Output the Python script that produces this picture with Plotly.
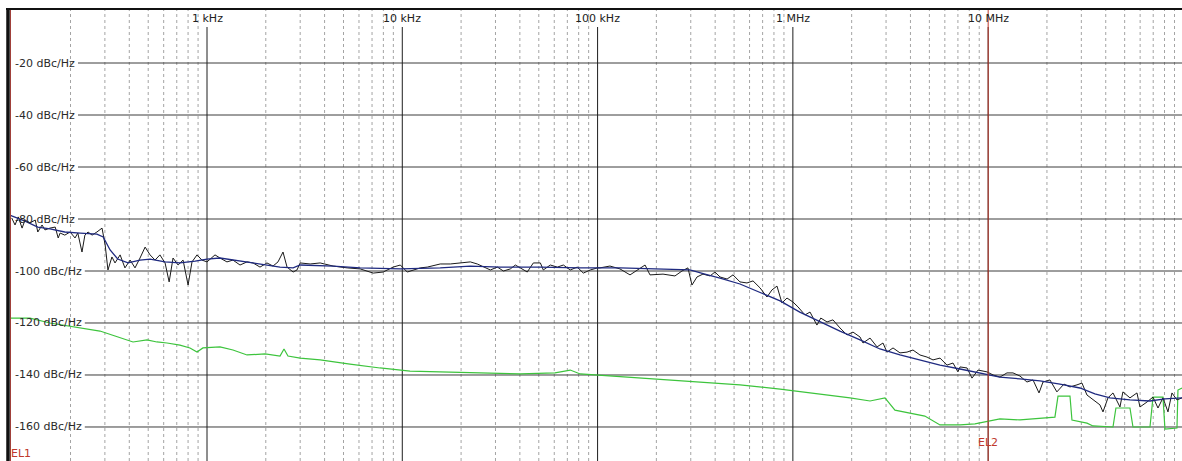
import math
import plotly.graph_objects as go

# ---------------- data ----------------
freq_black = [100, 104, 108, 113, 117, 124, 132, 136, 143, 148, 157, 167, 173, 177, 187, 199, 211, 218, 229, 237,
              246, 258, 273, 290, 301, 311, 326, 338, 359, 380, 404, 428, 454, 482, 511, 542, 574, 610, 640, 670,
              711, 754, 800, 838, 889, 942, 1000, 1099, 1165, 1265, 1358, 1476, 1603, 1721, 1868, 2028, 2178, 2310,
              2450, 2570, 2760, 2890, 3000, 3375, 3795, 4425, 5220, 6085, 7095, 7980, 8975, 9770, 10600, 12360,
              13430, 15640, 17610, 20530, 22300, 24200, 26000, 28240, 30690, 32950, 35740, 37930, 40200, 43650,
              46880, 50930, 52720, 57280, 62210, 66800, 72440, 78700, 84500, 91800, 99800, 102800, 115700, 130200,
              146600, 175000, 185500, 216300, 249000, 270500, 290200, 304300, 322800, 346400, 376500, 399000,
              423600, 460300, 493500, 536000, 582000, 625000, 679000, 737000, 781000, 829000, 879000, 933000,
              1.0e6, 1.062e6, 1.153e6, 1.224e6, 1.328e6, 1.39e6, 1.496e6, 1.604e6, 1.742e6, 1.893e6, 2.032e6,
              2.208e6, 2.286e6, 2.484e6, 2.698e6, 2.893e6, 3.034e6, 3.257e6, 3.535e6, 3.840e6, 4.121e6, 4.475e6,
              4.860e6, 5.219e6, 5.667e6, 6.155e6, 6.607e6, 7.0e6, 7.178e6, 7.796e6, 8.263e6, 8.873e6, 9.86e6,
              1.060e7, 1.149e7, 1.248e7, 1.340e7, 1.455e7, 1.580e7, 1.697e7, 1.821e7, 1.909e7, 2.072e7, 2.249e7,
              2.444e7, 2.624e7, 2.849e7, 3.022e7, 3.206e7, 3.441e7, 3.736e7, 3.872e7, 4.107e7, 4.357e7, 4.730e7,
              4.898e7, 5.322e7, 5.781e7, 5.988e7, 6.505e7, 6.982e7, 7.406e7, 7.855e7, 8.331e7, 8.733e7, 9.265e7,
              9.83e7]
db_black = [-79.6, -82.3, -79.2, -83.5, -80.4, -81.5, -80.4, -85.0, -82.3, -84.2, -83.5, -83.1, -87.3, -85.4,
            -86.2, -85.0, -87.3, -85.4, -92.7, -86.2, -85.0, -86.2, -85.0, -83.5, -90.0, -99.6, -94.6, -96.9,
            -93.8, -98.8, -95.8, -98.8, -95.0, -90.8, -93.8, -95.8, -93.8, -96.9, -104.2, -95.0, -97.7, -95.8,
            -105.4, -96.5, -93.8, -95.8, -96.5, -93.8, -95.0, -96.5, -95.8, -97.7, -96.5, -96.9, -98.5, -96.9,
            -98.1, -96.5, -92.7, -98.5, -100.4, -99.6, -96.9, -97.3, -96.9, -98.1, -98.8, -99.2, -100.8, -100.4,
            -98.5, -97.7, -100.4, -98.8, -98.5, -97.3, -97.3, -96.9, -96.5, -97.3, -98.5, -99.6, -98.5, -100.0,
            -99.2, -97.7, -98.8, -100.4, -96.9, -96.9, -99.6, -97.7, -98.5, -97.7, -99.6, -98.5, -100.8, -99.6,
            -98.8, -98.8, -98.1, -99.2, -101.5, -97.7, -101.5, -101.2, -101.9, -100.0, -98.8, -105.4, -102.3,
            -101.2, -101.9, -100.4, -102.3, -103.1, -101.5, -104.2, -104.6, -103.8, -106.5, -110.0, -107.3,
            -105.8, -112.3, -110.4, -111.9, -113.8, -116.9, -115.8, -120.8, -118.1, -119.6, -118.8, -121.9,
            -124.6, -123.5, -125.4, -127.7, -125.8, -129.2, -127.7, -131.2, -129.6, -131.5, -131.2, -130.4,
            -132.3, -133.1, -134.2, -133.5, -136.2, -135.4, -138.8, -136.9, -137.3, -141.2, -138.1, -138.8,
            -140.0, -140.8, -139.2, -139.2, -140.4, -142.7, -141.9, -146.9, -142.7, -141.9, -146.5, -143.5,
            -144.6, -143.8, -143.1, -147.7, -149.6, -151.5, -154.2, -148.8, -146.9, -152.3, -146.5, -148.8,
            -146.9, -152.3, -150.4, -148.5, -152.7, -148.8, -154.2, -146.9, -149.6, -148.8]

freq_blue = [98, 100, 117, 136, 157, 187, 224, 273, 294, 319, 349, 394, 454, 511, 610, 727, 870, 1000, 1165,
             1476, 1868, 2365, 2760, 3000, 4425, 6085, 9770, 15640, 22300, 31650, 50930, 81470, 130200, 208700,
             297200, 354600, 423600, 536000, 679000, 860200, 1.085e6, 1.374e6, 1.742e6, 2.208e6, 2.792e6,
             3.535e6, 4.475e6, 5.667e6, 7.178e6, 9.08e6, 1.149e7, 1.455e7, 1.842e7, 2.331e7, 2.95e7, 3.52e7,
             4.205e7, 5.322e7, 6.739e7, 8.040e7, 9.83e7]
db_blue = [-78.5, -78.8, -80.8, -83.1, -83.8, -85.0, -85.4, -85.8, -86.9, -91.9, -95.4, -96.9, -95.8, -95.4,
           -96.5, -96.9, -96.2, -95.4, -95.0, -96.2, -97.3, -98.5, -98.8, -97.7, -98.1, -98.8, -99.2, -98.8,
           -98.1, -98.5, -98.5, -98.8, -98.8, -99.2, -99.6, -101.2, -102.7, -105.0, -108.1, -111.5, -115.8,
           -119.6, -123.1, -126.5, -130.0, -132.3, -134.2, -136.2, -137.7, -139.2, -140.8, -141.5, -142.3,
           -143.5, -145.0, -147.3, -148.8, -149.6, -150.0, -149.2, -148.8]

freq_green = [98, 124, 157, 232, 283, 338, 389, 418, 493, 554, 624, 727, 818, 889, 953, 1165, 1358, 1603, 1985,
              2365, 2479, 2598, 3000, 3795, 5397, 7688, 10950, 15640, 25000, 40200, 60520, 72440, 81500, 115700,
              185500, 334500, 536000, 860200, 1.374e6, 1.962e6, 2.484e6, 2.962e6, 3.332e6, 3.98e6, 4.74e6,
              5.667e6, 7.178e6, 8.556e6, 1.0e7, 1.149e7, 1.455e7, 1.697e7, 2.072e7, 2.197e7, 2.278e7, 2.624e7,
              2.686e7, 3.206e7, 3.441e7, 4.357e7, 4.51e7, 5.322e7, 5.515e7, 6.739e7, 6.982e7, 7.855e7, 8.040e7,
              9.265e7, 9.373e7, 9.83e7]
db_green = [-118.1, -118.1, -120.0, -121.9, -123.1, -125.0, -126.5, -127.3, -126.5, -127.3, -127.7, -128.5,
            -129.6, -131.2, -129.6, -129.2, -130.4, -132.3, -131.9, -132.7, -130.0, -132.7, -133.5, -134.2,
            -135.8, -137.3, -138.5, -138.8, -139.2, -139.6, -139.2, -138.1, -139.6, -140.4, -141.5, -142.7,
            -143.8, -145.4, -147.3, -148.8, -150.0, -148.8, -153.5, -154.6, -155.8, -159.2, -159.2, -158.8,
            -157.7, -156.9, -157.3, -156.9, -156.5, -156.2, -148.1, -148.1, -157.3, -158.5, -159.6, -160.0,
            -152.7, -152.7, -160.0, -160.0, -148.5, -148.5, -160.8, -160.4, -145.8, -145.0]

y_levels = [-20, -40, -60, -80, -100, -120, -140, -160]
y_labels = ["-20 dBc/Hz", "-40 dBc/Hz", "-60 dBc/Hz", "-80 dBc/Hz", "-100 dBc/Hz",
            "-120 dBc/Hz", "-140 dBc/Hz", "-160 dBc/Hz"]
decade_freqs = [1e3, 1e4, 1e5, 1e6, 1e7]
decade_labels = ["1 kHz", "10 kHz", "100 kHz", "1 MHz", "10 MHz"]
minor_decades = [1e2, 1e3, 1e4, 1e5, 1e6, 1e7]
minor_digits = [2, 3, 4, 5, 6, 7, 8, 9]
marker_freq_el2 = 1e7

# ---------------- layout geometry ----------------
W, H = 1182, 461
ML, MT = 10, 10
PW, PH = W - ML, H - MT
XMIN, XMAX = math.log10(98), math.log10(9.83e7)
YMIN, YMAX = -173.08, 0.385


def xp(f):
    return (math.log10(f) - XMIN) / (XMAX - XMIN)


def ypx(px):
    # pixel row (from top of window) -> paper y
    return (H - px) / PH


def xpx(px):
    return (px - ML) / PW


FONT = "DejaVu Sans"
FS = 11
shapes = []
annotations = []

# minor vertical dashed grid
for d in minor_decades:
    for k in minor_digits:
        f = d * k
        if f > 9.83e7:
            continue
        shapes.append(dict(type="line", xref="paper", yref="paper", x0=xp(f), x1=xp(f), y0=0, y1=1,
                           line=dict(color="#a4a4a4", width=1, dash="3px,3px"), layer="below"))

# horizontal solid grid (starting after label)
for lev, lab in zip(y_levels, y_labels):
    x0 = xpx(10 + len(lab) * 6.8)
    shapes.append(dict(type="line", xref="paper", yref="y", x0=x0, x1=1, y0=lev, y1=lev,
                       line=dict(color="#3c3c3c", width=1), layer="below"))
    annotations.append(dict(text=lab, xref="paper", yref="y", x=xpx(13), y=lev, xanchor="left",
                            yanchor="middle", showarrow=False, font=dict(family=FONT, size=FS, color="#2a2a2a")))

# decade vertical solid grid
for f, lab in zip(decade_freqs, decade_labels):
    shapes.append(dict(type="line", xref="paper", yref="paper", x0=xp(f), x1=xp(f), y0=0, y1=ypx(27),
                       line=dict(color="#1e1e1e", width=1), layer="below"))
    annotations.append(dict(text=lab, xref="paper", yref="paper", x=xp(f), y=ypx(19), xanchor="center",
                            yanchor="middle", showarrow=False, font=dict(family=FONT, size=FS, color="#222222")))

# frame
shapes.append(dict(type="line", xref="paper", yref="paper", x0=xpx(6), x1=1.0, y0=ypx(9), y1=ypx(9),
                   line=dict(color="#111111", width=2), layer="above"))
shapes.append(dict(type="line", xref="paper", yref="paper", x0=xpx(8), x1=xpx(8), y0=0, y1=ypx(8),
                   line=dict(color="#111111", width=3.5), layer="above"))
# EL1 marker at left edge
shapes.append(dict(type="line", xref="paper", yref="paper", x0=xpx(10.5), x1=xpx(10.5), y0=0, y1=ypx(10),
                   line=dict(color="#a0403a", width=1), layer="above"))
# EL2 marker line
shapes.append(dict(type="line", xref="paper", yref="paper", x0=xp(marker_freq_el2), x1=xp(marker_freq_el2),
                   y0=0, y1=ypx(10), line=dict(color="#c0392b", width=1), layer="above"))
annotations.append(dict(text="EL2", xref="paper", yref="paper", x=xp(marker_freq_el2), y=ypx(442),
                        xanchor="center", yanchor="middle", showarrow=False,
                        font=dict(family=FONT, size=FS, color="#c0392b")))
annotations.append(dict(text="EL1", xref="paper", yref="paper", x=xpx(9), y=ypx(453), xanchor="left",
                        yanchor="middle", showarrow=False, font=dict(family=FONT, size=FS, color="#c0392b")))

fig = go.Figure()
fig.add_trace(go.Scatter(x=freq_green, y=db_green, mode="lines", line=dict(color="#3dc43d", width=1.2),
                         hoverinfo="skip"))
fig.add_trace(go.Scatter(x=freq_black, y=db_black, mode="lines", line=dict(color="#1a1a1a", width=1),
                         hoverinfo="skip"))
fig.add_trace(go.Scatter(x=freq_blue, y=db_blue, mode="lines", line=dict(color="#1f2a80", width=1.3),
                         hoverinfo="skip"))

fig.update_layout(
    width=W, height=H,
    margin=dict(l=ML, r=0, t=MT, b=0),
    paper_bgcolor="white", plot_bgcolor="white",
    showlegend=False,
    shapes=shapes, annotations=annotations,
    xaxis=dict(type="log", range=[XMIN, XMAX], showgrid=False, zeroline=False, showticklabels=False,
               ticks="", showline=False),
    yaxis=dict(range=[YMIN, YMAX], showgrid=False, zeroline=False, showticklabels=False, ticks="",
               showline=False),
)

fig.write_html("out.html")
